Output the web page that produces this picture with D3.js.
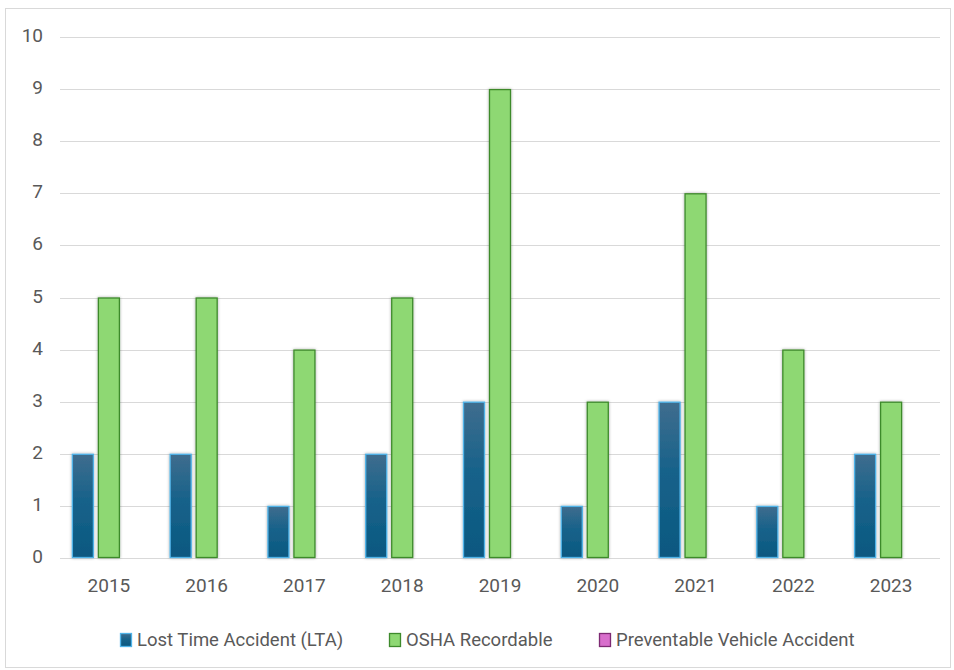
<!DOCTYPE html>
<html>
<head>
<meta charset="utf-8">
<script src="https://cdn.jsdelivr.net/npm/d3@7"></script>
<style>
  html, body { margin: 0; padding: 0; background: #fff; }
  svg { display: block; }
  text { font-family: Roboto, "Noto Sans", sans-serif; fill: #595959; }
</style>
</head>
<body>
<svg id="chart" width="954" height="670"></svg>
<script>
// Annual safety incident counts
const years = ["2015", "2016", "2017", "2018", "2019", "2020", "2021", "2022", "2023"];
const ltaCounts = [2, 2, 1, 2, 3, 1, 3, 1, 2];
const oshaCounts = [5, 5, 4, 5, 9, 3, 7, 4, 3];
const vehicleCounts = [0, 0, 0, 0, 0, 0, 0, 0, 0];
const seriesNames = ["Lost Time Accident (LTA)", "OSHA Recordable", "Preventable Vehicle Accident"];
const yTicks = [0, 1, 2, 3, 4, 5, 6, 7, 8, 9, 10];

const seriesValues = [ltaCounts, oshaCounts, vehicleCounts];
const styles = [
  { fill: "url(#ltaGrad)", stroke: "#4fb3e8" },
  { fill: "#8ed873", stroke: "#3e8a2c" },
  { fill: "#d86ecc", stroke: "#7d2a73" }
];

const svg = d3.select("#chart");
const defs = svg.append("defs");
const grad = defs.append("linearGradient").attr("id", "ltaGrad")
  .attr("x1", 0).attr("y1", 0).attr("x2", 0).attr("y2", 1);
grad.append("stop").attr("offset", "0%").attr("stop-color", "#3f6d8e");
grad.append("stop").attr("offset", "45%").attr("stop-color", "#17628a");
grad.append("stop").attr("offset", "100%").attr("stop-color", "#0a5880");

const shadow = defs.append("filter").attr("id", "barShadow")
  .attr("x", "-30%").attr("y", "-10%").attr("width", "160%").attr("height", "120%");
shadow.append("feDropShadow").attr("dx", 0).attr("dy", 0).attr("stdDeviation", 1.6)
  .attr("flood-color", "#000").attr("flood-opacity", 0.35);

// chart frame
svg.append("rect").attr("x", 5.5).attr("y", 8.5).attr("width", 945).attr("height", 659)
  .attr("fill", "#fff").attr("stroke", "#d9d9d9").attr("stroke-width", 1);

const plot = { left: 60, right: 940, top: 37, bottom: 558 };

const x = d3.scaleBand().domain(years).range([plot.left, plot.right]).padding(0);
const y = d3.scaleLinear().domain([0, 10]).range([plot.bottom, plot.top]);

// gridlines
svg.append("g").selectAll("line").data(yTicks).join("line")
  .attr("x1", plot.left).attr("x2", plot.right)
  .attr("y1", d => Math.round(y(d)) + 0.5).attr("y2", d => Math.round(y(d)) + 0.5)
  .attr("stroke", "#d9d9d9").attr("stroke-width", 1);

// y axis labels
const yAxis = d3.axisLeft(y).tickValues(yTicks).tickSize(0).tickPadding(0);
const yG = svg.append("g").attr("transform", `translate(43,-1.5)`).call(yAxis);
yG.select(".domain").remove();
yG.selectAll("text").attr("font-size", 19).attr("fill", "#595959");

// x axis labels
const xAxis = d3.axisBottom(x).tickSize(0).tickPadding(0);
const xG = svg.append("g").attr("transform", `translate(0,${plot.bottom + 20})`).call(xAxis);
xG.select(".domain").remove();
xG.selectAll("text").attr("font-size", 19).attr("fill", "#595959");

// grouped bars
const barW = 22, gap = 4;
const groupW = seriesValues.length * barW + (seriesValues.length - 1) * gap;
const bars = svg.append("g");
seriesValues.forEach((vals, si) => {
  bars.append("g").selectAll("rect").data(vals.map((v, i) => ({ year: years[i], v })))
    .join("rect")
    .filter(d => d.v > 0)
    .attr("x", d => x(d.year) + x.bandwidth() / 2 - groupW / 2 + si * (barW + gap) + 0.5)
    .attr("y", d => y(d.v) + 0.5)
    .attr("width", barW - 1)
    .attr("height", d => y(0) - y(d.v) - 1)
    .attr("fill", styles[si].fill)
    .attr("stroke", styles[si].stroke)
    .attr("stroke-width", 1.3)
    .attr("filter", "url(#barShadow)");
});

// legend
const legendX = [120, 389, 599];
const legend = svg.append("g");
seriesNames.forEach((name, i) => {
  const g = legend.append("g").attr("transform", `translate(${legendX[i]},633)`);
  g.append("rect").attr("x", 0.5).attr("y", 0.5).attr("width", 11).attr("height", 13)
    .attr("fill", styles[i].fill).attr("stroke", styles[i].stroke).attr("stroke-width", 1.3);
  g.append("text").attr("x", 17).attr("y", 13).attr("font-size", 18.5).text(name);
});
</script>
</body>
</html>
